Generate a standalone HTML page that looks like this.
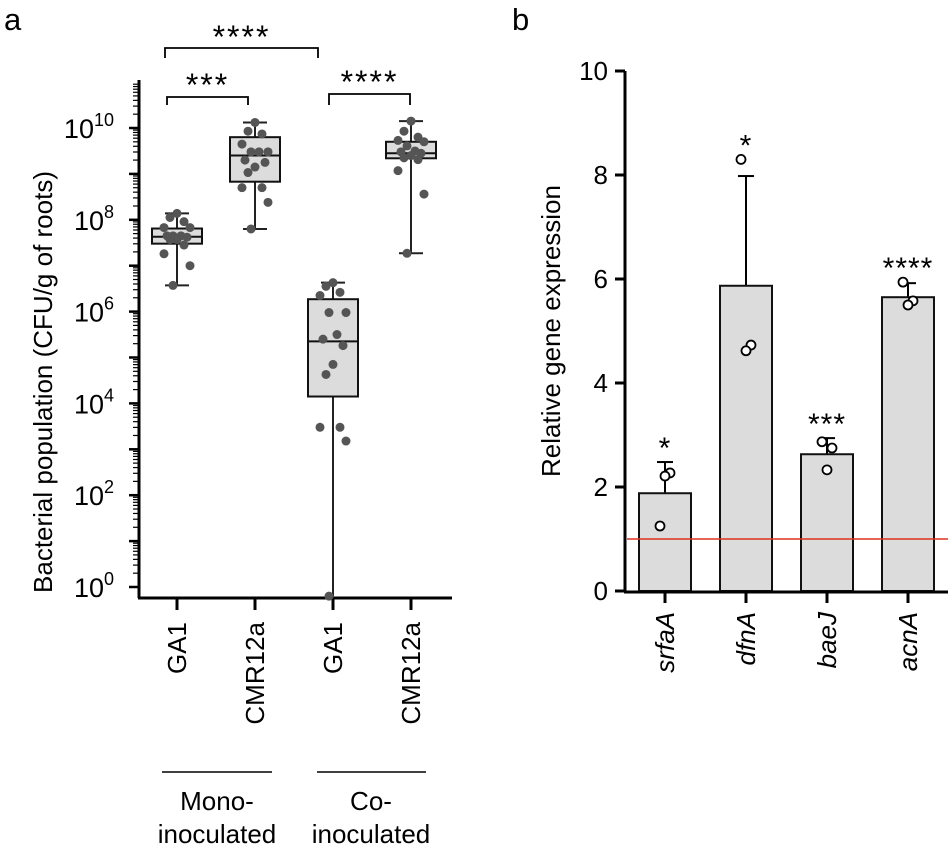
<!DOCTYPE html>
<html><head><meta charset="utf-8"><style>
body{margin:0;background:#fff}
svg{display:block;font-family:"Liberation Sans",Arial,sans-serif}
</style></head><body>
<svg id="fig" width="950" height="846" viewBox="0 0 950 846">
<text x="4" y="30" font-size="31">a</text>
<text x="512" y="30" font-size="31">b</text>
<g id="pa"></g>
<g id="pb"></g>
</svg>
<script>
// ---- Panel a data (log10 CFU/g) ----
const groupsA = ["GA1","CMR12a","GA1","CMR12a"];
const whiskerHi = [8.14, 10.12, 6.63, 10.15];
const boxHi = [7.81, 9.80, 6.27, 9.70];
const medians = [7.63, 9.40, 5.35, 9.45];
const boxLo = [7.48, 8.83, 4.15, 9.34];
const whiskerLo = [6.57, 7.80, -0.2, 7.27];
const pointsA = [
 [8.14,8.05,7.96,7.83,7.83,7.65,7.65,7.65,7.62,7.57,7.57,7.45,7.26,7.00,6.57],
 [10.12,9.93,9.87,9.65,9.48,9.48,9.48,9.30,9.25,9.15,9.03,8.70,8.70,8.38,7.80],
 [6.63,6.55,6.42,6.35,5.98,5.98,5.50,5.40,5.26,4.85,4.63,3.48,3.48,3.18,-0.2],
 [10.15,9.93,9.80,9.73,9.70,9.61,9.50,9.48,9.45,9.40,9.35,9.31,9.07,8.56,7.27]
];
const yTicksA = [0,2,4,6,8,10];
// ---- Panel b data ----
const genes = ["srfaA","dfnA","baeJ","acnA"];
const means = [1.88, 5.87, 2.63, 5.65];
const errHi = [2.48, 7.98, 2.94, 5.92];
const reps = [[1.25,2.27,2.21],[8.3,4.73,4.62],[2.87,2.75,2.33],[5.94,5.58,5.5]];
const stars = ["*","*","***","****"];
const yTicksB = [0,2,4,6,8,10];

const NS="http://www.w3.org/2000/svg";
function mk(parent,tag,attrs,name,text){const e=document.createElementNS(NS,tag);for(const k in attrs)e.setAttribute(k,attrs[k]);


if(text!==undefined)e.textContent=text;parent.appendChild(e);return e;}

// Panel a
const pa=document.getElementById('pa');
const yA=v=>587-45.9*v;
const xA=i=>177+i*78;
mk(pa,'line',{x1:139,y1:80,x2:139,y2:598,stroke:'#000','stroke-width':3},'y-axis');
mk(pa,'line',{x1:138,y1:598,x2:452,y2:598,stroke:'#000','stroke-width':3},'x-axis');
for(let d=0;d<=10;d++){
  mk(pa,'line',{x1:129,y1:yA(d),x2:139,y2:yA(d),stroke:'#000','stroke-width':2.5},'y-major-tick');
  for(let m=2;m<10;m++){const v=d+Math.log10(m);if(v>11.1)break;
    mk(pa,'line',{x1:133,y1:yA(v),x2:139,y2:yA(v),stroke:'#000','stroke-width':1.2},'y-minor-tick');}
}
yTicksA.forEach(t=>{const tx=mk(pa,'text',{x:114,y:yA(t)+10,'font-size':27,'text-anchor':'end'},'y-tick-label');
  tx.textContent='10';const s=document.createElementNS(NS,'tspan');s.setAttribute('dy','-12');s.setAttribute('font-size','18');s.textContent=String(t);tx.appendChild(s);
  
  });
mk(pa,'text',{transform:'translate(52,382) rotate(-90)','font-size':26,'text-anchor':'middle'},'y-axis-title','Bacterial population (CFU/g of roots)');
groupsA.forEach((g,i)=>{const x=xA(i);
  mk(pa,'line',{x1:x,y1:598,x2:x,y2:610,stroke:'#000','stroke-width':3},'x-tick');
  mk(pa,'text',{transform:`translate(${x+9},622) rotate(-90)`,'font-size':26,'text-anchor':'end'},'x-tick-label',g);
  mk(pa,'line',{x1:x,y1:yA(whiskerHi[i]),x2:x,y2:Math.min(598,yA(whiskerLo[i])),stroke:'#222','stroke-width':2},'whisker');
  mk(pa,'line',{x1:x-12,y1:yA(whiskerHi[i]),x2:x+12,y2:yA(whiskerHi[i]),stroke:'#222','stroke-width':2},'whisker-cap');
  if(whiskerLo[i]>0)mk(pa,'line',{x1:x-12,y1:yA(whiskerLo[i]),x2:x+12,y2:yA(whiskerLo[i]),stroke:'#222','stroke-width':2},'whisker-cap');
  mk(pa,'rect',{x:x-25,y:yA(boxHi[i]),width:50,height:yA(boxLo[i])-yA(boxHi[i]),fill:'#dcdcdc',stroke:'#111','stroke-width':2},'box');
  mk(pa,'line',{x1:x-25,y1:yA(medians[i]),x2:x+25,y2:yA(medians[i]),stroke:'#111','stroke-width':2},'median-line');
  const off=[0,-7,7,-13,13,-4,4,-10,10];
  pointsA[i].forEach((v,k)=>{mk(pa,'circle',{cx:x+off[k%off.length],cy:Math.min(598,yA(v)),r:4.5,fill:'#555'},'data-point');});
});
function bracket(x1,x2,y,y2,label,ly){
  mk(pa,'path',{d:`M${x1},${y2}V${y}H${x2}V${y2}`,fill:'none',stroke:'#000','stroke-width':1.8},'significance-bracket');
  mk(pa,'text',{x:(x1+x2)/2,y:ly,'font-size':32,'letter-spacing':'2','text-anchor':'middle'},'significance-stars',label);
}
bracket(167,248,97,105,'***',96);
bracket(329,410,94,105,'****',93);
bracket(165,318,48,58,'****',48);
mk(pa,'line',{x1:162,y1:772,x2:272,y2:772,stroke:'#000','stroke-width':1.5},'group-line-mono');
mk(pa,'line',{x1:317,y1:772,x2:426,y2:772,stroke:'#000','stroke-width':1.5},'group-line-co');
mk(pa,'text',{x:217,y:810,'font-size':26,'text-anchor':'middle'},'group-label-mono','Mono-');
mk(pa,'text',{x:217,y:843,'font-size':26,'text-anchor':'middle'},'group-label-mono-2','inoculated');
mk(pa,'text',{x:371,y:810,'font-size':26,'text-anchor':'middle'},'group-label-co','Co-');
mk(pa,'text',{x:371,y:843,'font-size':26,'text-anchor':'middle'},'group-label-co-2','inoculated');

// Panel b
const pb=document.getElementById('pb');
const yB=v=>591-52*v;
const xB=i=>665+i*81;
mk(pb,'line',{x1:625,y1:yB(10),x2:625,y2:592,stroke:'#000','stroke-width':3},'y-axis');
yTicksB.forEach(t=>{mk(pb,'line',{x1:615,y1:yB(t),x2:625,y2:yB(t),stroke:'#000','stroke-width':3},'y-tick');
  mk(pb,'text',{x:608,y:yB(t)+9,'font-size':26,'text-anchor':'end'},'y-tick-label',String(t));});
mk(pb,'text',{transform:'translate(560,331) rotate(-90)','font-size':26,'text-anchor':'middle'},'y-axis-title','Relative gene expression');
genes.forEach((g,i)=>{const x=xB(i);
  mk(pb,'line',{x1:x,y1:yB(errHi[i]),x2:x,y2:yB(means[i]),stroke:'#000','stroke-width':2},'error-bar');
  mk(pb,'line',{x1:x-8,y1:yB(errHi[i]),x2:x+8,y2:yB(errHi[i]),stroke:'#000','stroke-width':2},'error-cap');
  mk(pb,'rect',{x:x-26,y:yB(means[i]),width:52,height:591-yB(means[i]),fill:'#dcdcdc',stroke:'#111','stroke-width':2},'bar-'+g);
});
mk(pb,'line',{x1:627,y1:yB(1),x2:948,y2:yB(1),stroke:'#e0301e','stroke-width':1.5},'baseline-reference');
genes.forEach((g,i)=>{const x=xB(i);const off=[-5,5,0];
  reps[i].forEach((v,k)=>mk(pb,'circle',{cx:x+off[k],cy:yB(v),r:4.5,fill:'#fff',stroke:'#000','stroke-width':1.8},'replicate-point'));
  const top=Math.max(errHi[i],...reps[i]);
  mk(pb,'text',{x:x,y:yB(top)-4,'font-size':30,'letter-spacing':'1','text-anchor':'middle'},'significance-stars',stars[i]);
  mk(pb,'line',{x1:x,y1:591,x2:x,y2:603,stroke:'#000','stroke-width':3},'x-tick');
  mk(pb,'text',{transform:`translate(${x+9},612) rotate(-90)`,'font-size':26,'font-style':'italic','text-anchor':'end'},'x-tick-label',g);
});
mk(pb,'line',{x1:624,y1:592,x2:948,y2:592,stroke:'#000','stroke-width':3},'x-axis');
</script>
</body></html>
